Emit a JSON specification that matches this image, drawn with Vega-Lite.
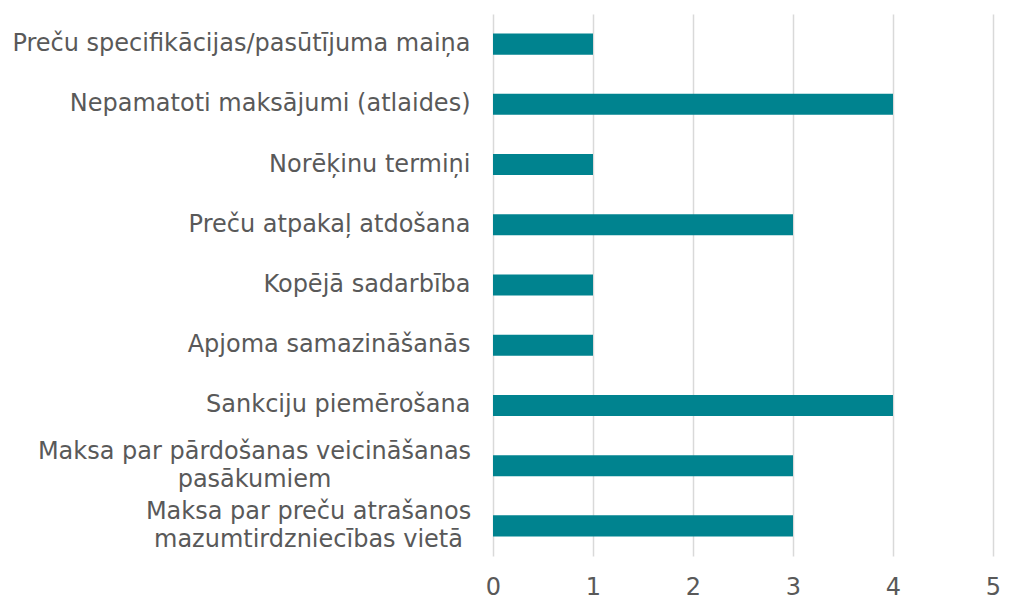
{
  "$schema": "https://vega.github.io/schema/vega-lite/v6.json",
  "autosize": "none",
  "width": 500,
  "height": 542,
  "padding": {"left": 493, "top": 14, "right": 18, "bottom": 43},
  "background": "white",
  "config": {"view": {"stroke": null}, "font": "DejaVu Sans"},
  "data": {"values": [
    {"cat": "Preču specifikācijas/pasūtījuma maiņa", "v": 1},
    {"cat": "Nepamatoti maksājumi (atlaides)", "v": 4},
    {"cat": "Norēķinu termiņi", "v": 1},
    {"cat": "Preču atpakaļ atdošana", "v": 3},
    {"cat": "Kopējā sadarbība", "v": 1},
    {"cat": "Apjoma samazināšanās", "v": 1},
    {"cat": "Sankciju piemērošana", "v": 4},
    {"cat": "Maksa par pārdošanas veicināšanas|pasākumiem", "v": 3},
    {"cat": "Maksa par preču atrašanos|mazumtirdzniecības vietā", "v": 3}
  ]},
  "mark": {"type": "bar", "color": "#00838F"},
  "encoding": {
    "y": {
      "field": "cat", "type": "nominal", "sort": null,
      "scale": {"paddingInner": 0.65, "paddingOuter": 0.325},
      "axis": {
        "title": null, "domain": false, "ticks": false, "grid": false,
        "labelExpr": "split(datum.label, '|')",
        "labelFont": "DejaVu Sans", "labelFontSize": 24, "labelColor": "#595959",
        "labelLineHeight": 28, "labelLimit": 700, "labelOverlap": false,
        "labelAlign": {"condition": {"test": "indexof(datum.value, '|') >= 0", "value": "center"}, "value": "right"},
        "labelOffset": {"condition": {"test": "indexof(datum.value, '|') >= 0", "value": -14}, "value": 0},
        "labelPadding": {"condition": [
          {"test": "datum.value == 'Maksa par pārdošanas veicināšanas|pasākumiem'", "value": 239},
          {"test": "datum.value == 'Maksa par preču atrašanos|mazumtirdzniecības vietā'", "value": 185}
        ], "value": 23}
      }
    },
    "x": {
      "field": "v", "type": "quantitative",
      "scale": {"domain": [0, 5], "nice": false},
      "axis": {
        "title": null, "domain": false, "ticks": false, "values": [0, 1, 2, 3, 4, 5],
        "grid": true, "gridColor": "#d9d9d9", "gridWidth": 1.5,
        "labelOverlap": false, "labelFlush": false,
        "labelFont": "DejaVu Sans", "labelFontSize": 24, "labelColor": "#595959",
        "labelPadding": 19
      }
    }
  }
}
